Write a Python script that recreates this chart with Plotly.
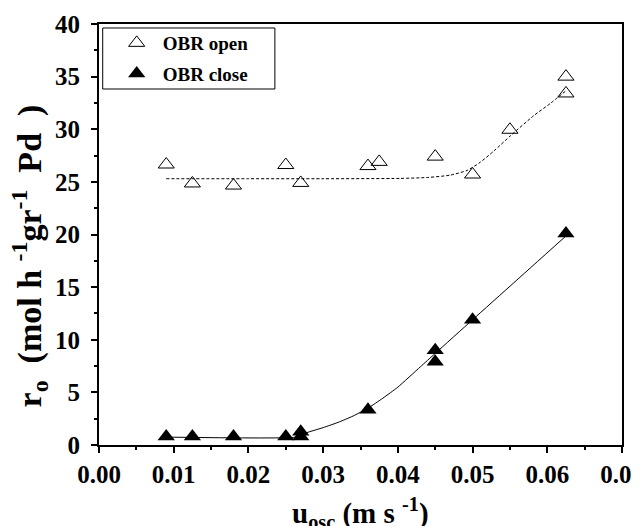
import plotly.graph_objects as go

# Data
open_x = [0.0090, 0.0125, 0.0180, 0.0250, 0.0270, 0.0360, 0.0375, 0.0450, 0.0500, 0.0550, 0.0625, 0.0625]
open_y = [26.65, 24.85, 24.65, 26.6, 24.9, 26.5, 26.9, 27.4, 25.7, 29.95, 35.0, 33.4]

close_x = [0.0090, 0.0125, 0.0180, 0.0250, 0.0270, 0.0270, 0.0360, 0.0450, 0.0450, 0.0500, 0.0625]
close_y = [0.8, 0.8, 0.8, 0.8, 1.25, 0.8, 3.35, 9.0, 7.9, 11.9, 20.1]

# Fit curves
open_fit_x = [0.0090, 0.0200, 0.0300, 0.0403, 0.0440, 0.0470, 0.0493, 0.0510, 0.0528, 0.0551, 0.0582, 0.0604, 0.0624]
open_fit_y = [25.3, 25.3, 25.3, 25.33, 25.42, 25.64, 26.1, 26.85, 27.9, 29.4, 31.3, 32.45, 33.6]

close_fit_x = [0.0090, 0.0265, 0.0272, 0.0280, 0.0300, 0.0320, 0.0340, 0.0360, 0.0380, 0.0400,
               0.0430, 0.0450, 0.0500, 0.0555, 0.0624]
close_fit_y = [0.75, 0.75, 1.0, 1.22, 1.65, 2.15, 2.75, 3.5, 4.45, 5.5,
               7.42, 8.7, 11.9, 15.4, 19.8]

x_ticks = [0.00, 0.01, 0.02, 0.03, 0.04, 0.05, 0.06, 0.07]
y_ticks = [0, 5, 10, 15, 20, 25, 30, 35, 40]

FONT = "Liberation Serif"

fig = go.Figure()
fig.add_trace(go.Scatter(x=open_fit_x, y=open_fit_y, mode="lines",
                         line=dict(color="black", width=1, dash="3px,2px", shape="spline", smoothing=0.6),
                         showlegend=False, hoverinfo="skip"))
fig.add_trace(go.Scatter(x=close_fit_x, y=close_fit_y, mode="lines",
                         line=dict(color="black", width=1, shape="spline", smoothing=0.5),
                         showlegend=False, hoverinfo="skip"))
fig.add_trace(go.Scatter(x=open_x, y=open_y, mode="markers", name="OBR open", legendgroup="a",
                         marker=dict(symbol="triangle-up-open", size=14, color="black",
                                     line=dict(color="black", width=1))))
fig.add_trace(go.Scatter(x=close_x, y=close_y, mode="markers", name="OBR close", legendgroup="b",
                         marker=dict(symbol="triangle-up", size=15, color="black",
                                     line=dict(color="black", width=0))))

axis_common = dict(
    showgrid=False, zeroline=False, showline=True, linecolor="black", linewidth=2,
    mirror=True, ticks="outside", ticklen=6, tickwidth=2, tickcolor="black",
    tickfont=dict(family=FONT, size=25, color="black", weight="bold"),
    ticklabeloverflow="allow",
)

fig.update_xaxes(range=[0, 0.07], tickvals=x_ticks,
                 ticktext=[f"{v:.2f}" for v in x_ticks],
                 minor=dict(dtick=0.005, ticks="outside", ticklen=3, tickwidth=2, tickcolor="black"),
                 **axis_common)
fig.update_yaxes(range=[0, 40], tickvals=y_ticks,
                 ticktext=[str(v) for v in y_ticks],
                 minor=dict(dtick=2.5, ticks="outside", ticklen=3, tickwidth=2, tickcolor="black"),
                 ticklabelstandoff=6,
                 **axis_common)

# axis titles
fig.add_annotation(text="u<sub>osc</sub> (m s <sup>-1</sup>)",
                   xref="paper", yref="paper", x=0.5, y=0, yshift=-46,
                   xanchor="center", yanchor="top", showarrow=False,
                   font=dict(family=FONT, size=29, color="black", weight="bold"))
fig.add_annotation(text="r<sub>o</sub>&nbsp; (mol h <sup>-1</sup>gr<sup>-1</sup>&nbsp; Pd&nbsp; )",
                   xref="paper", yref="paper", x=0, y=0.448, xshift=-70,
                   xanchor="center", yanchor="middle", textangle=-90, showarrow=False,
                   font=dict(family=FONT, size=34, color="black", weight="bold"))

# legend frame
fig.add_shape(type="rect", xref="paper", yref="paper",
              x0=0.0071, x1=0.3363, y0=0.8456, y1=0.9905,
              line=dict(color="black", width=1), fillcolor="rgba(0,0,0,0)", layer="above")

fig.update_layout(
    width=632, height=518,
    margin=dict(l=91, r=18, t=16, b=81, autoexpand=False),
    plot_bgcolor="white", paper_bgcolor="white",
    font=dict(family=FONT, color="black"),
    legend=dict(x=0.0224, y=1.0, xanchor="left", yanchor="top",
                borderwidth=0, bgcolor="rgba(0,0,0,0)",
                font=dict(family=FONT, size=19, color="black", weight="bold"),
                itemwidth=42, tracegroupgap=3),
)

fig.write_html("out.html")
